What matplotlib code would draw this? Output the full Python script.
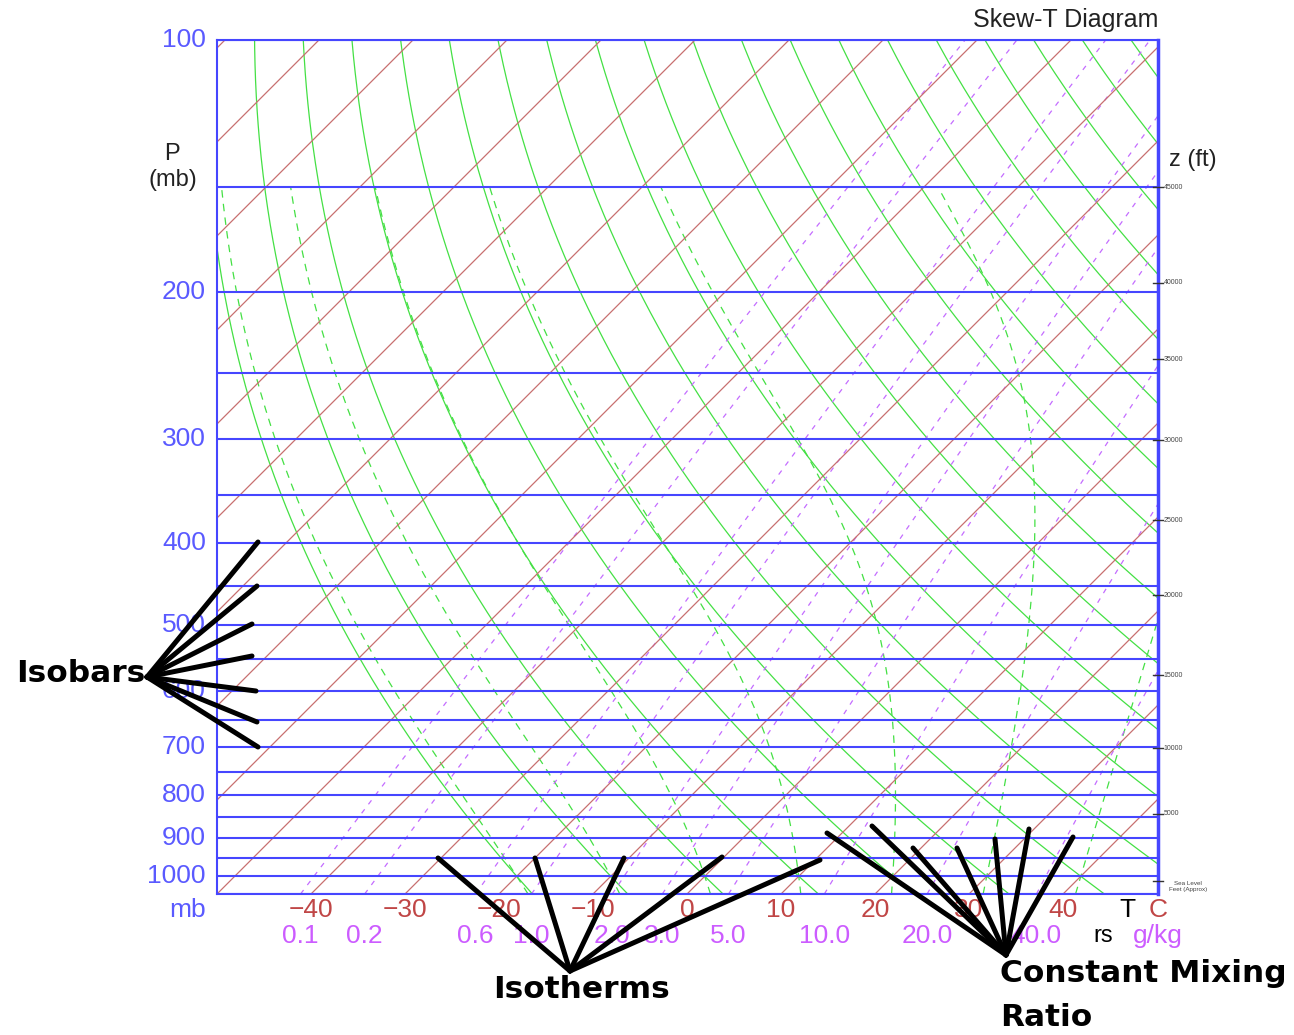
import numpy as np
import matplotlib.pyplot as plt
from matplotlib.lines import Line2D

W, H, DPI = 1294, 1035, 100

# pressure range (mb) and bottom temperature range (C)
p_bot, p_top = 1050.0, 100.0
t_left, t_right = -50.0, 50.1

isobars = np.arange(100, 1051, 50)
p_labels = [100, 200, 300, 400, 500, 600, 700, 800, 900, 1000]
isotherms = np.arange(-150, 51, 10)
t_labels = [-40, -30, -20, -10, 0, 10, 20, 30, 40]
dry_theta_c = np.arange(-20, 181, 10)
moist_thetaw_c = [-20, -10, 0, 10, 20, 30, 40]
mix_ratios = [0.1, 0.2, 0.6, 1.0, 2.0, 3.0, 5.0, 10.0, 20.0, 40.0]
mix_labels = ["0.1", "0.2", "0.6", "1.0", "2.0", "3.0", "5.0", "10.0", "20.0", "40.0"]
z_labels = ["45000", "40000", "35000", "30000", "25000", "20000", "15000", "10000", "5000"]
z_press = [150, 195, 241, 301, 375, 461, 575, 703, 842]
sea_level_p = 1013

blue = "#4646ff"
blue_txt = "#5a5aff"
red = "#c87070"
red_txt = "#c04646"
green = "#44e044"
purple = "#c46cff"
purple_txt = "#cc5cff"

fig = plt.figure(figsize=(W / DPI, H / DPI), dpi=DPI)

# axes box in pixels
ax_l, ax_r, ax_t, ax_b = 217, 1158, 40, 894
ax = fig.add_axes([ax_l / W, (H - ax_b) / H, (ax_r - ax_l) / W, (ax_b - ax_t) / H])
ax.set_yscale("log")
ax.set_ylim(p_bot, p_top)
ax.set_xlim(t_left, t_right)
ax.tick_params(which="both", length=0, labelleft=False, labelbottom=False)
ax.minorticks_off()
for side, lw in [("left", 1.5), ("right", 2.5), ("top", 1.5), ("bottom", 1.5)]:
    ax.spines[side].set_color(blue)
    ax.spines[side].set_linewidth(lw)

# isotherms drawn at 45 degrees on screen
px_per_ln = (ax_b - ax_t) / np.log(p_bot / p_top)
px_per_deg = (ax_r - ax_l) / (t_right - t_left)
K = px_per_ln / px_per_deg


def skew(T, p):
    return T + K * np.log(p_bot / p)


def sat_vp(tc):
    return 6.112 * np.exp(17.67 * tc / (tc + 243.5))


def dewpoint(e):
    a = np.log(e / 6.112)
    return 243.5 * a / (17.67 - a)


p = np.linspace(p_bot, p_top, 400)

for tc in isotherms:
    ax.plot(skew(tc, p), p, color=red, lw=0.9, zorder=2)

for th in dry_theta_c:
    T = (th + 273.15) * (p / 1000.0) ** 0.2857 - 273.15
    ax.plot(skew(T, p), p, color=green, lw=0.9, zorder=1)

# pseudo-adiabats integrated from 1000 mb
Rd, Cpd, Lv, eps = 287.04, 1005.7, 2.501e6, 0.622


def moist_rate(T, pp):
    es = sat_vp(T - 273.15)
    rs = eps * es / (pp - es)
    return (Rd * T + Lv * rs) / (pp * (Cpd + Lv * Lv * rs * eps / (Rd * T * T)))


def moist_path(t0, p_end, dp):
    T, pp = t0 + 273.15, 1000.0
    ps, ts = [pp], [T]
    while (pp - p_end) * np.sign(-dp) > 0:
        k1 = moist_rate(T, pp)
        k2 = moist_rate(T + 0.5 * dp * k1, pp + 0.5 * dp)
        k3 = moist_rate(T + 0.5 * dp * k2, pp + 0.5 * dp)
        k4 = moist_rate(T + dp * k3, pp + dp)
        T += dp * (k1 + 2 * k2 + 2 * k3 + k4) / 6
        pp += dp
        ps.append(pp)
        ts.append(T)
    return np.array(ps), np.array(ts) - 273.15


for tw in moist_thetaw_c:
    pu, tu = moist_path(tw, 150.0, -2.0)
    pd, td = moist_path(tw, p_bot, 2.0)
    pm = np.concatenate([pd[::-1], pu[1:]])
    tm = np.concatenate([td[::-1], tu[1:]])
    ax.plot(skew(tm, pm), pm, color=green, lw=0.9, ls=(0, (6, 5)), zorder=1)

# saturation mixing ratio lines
for w in mix_ratios:
    e = (w / 1000.0) * p / (eps + w / 1000.0)
    ax.plot(skew(dewpoint(e), p), p, color=purple, lw=0.9, ls=(0, (4, 5)), zorder=1)

for pb in isobars:
    ax.axhline(pb, color=blue, lw=1.5, zorder=3)

lab_font = "Liberation Sans"
for pl in p_labels:
    ax.text(-0.0117, pl, str(pl), transform=ax.get_yaxis_transform(), ha="right",
            va="center", color=blue_txt, fontsize=19, family=lab_font)
ax.text(-0.0117, -0.0187, "mb", transform=ax.transAxes, ha="right", va="center",
        color=blue_txt, fontsize=19, family=lab_font)

for tl in t_labels:
    ax.text(tl, -0.0187, str(tl).replace("-", "\u2212"), transform=ax.get_xaxis_transform(),
            ha="center", va="center", color=red_txt, fontsize=19, family=lab_font)
ax.text(0.968, -0.0187, "T", transform=ax.transAxes, ha="center", va="center",
        color="black", fontsize=19, family=lab_font)
ax.text(1.0, -0.0187, "C", transform=ax.transAxes, ha="center", va="center",
        color=red_txt, fontsize=19, family=lab_font)

for w, wl in zip(mix_ratios, mix_labels):
    e = (w / 1000.0) * p_bot / (eps + w / 1000.0)
    ax.text(dewpoint(e), -0.049, wl, transform=ax.get_xaxis_transform(),
            ha="center", va="center", color=purple_txt, fontsize=19, family=lab_font)
ax.text(0.9416, -0.049, "rs", transform=ax.transAxes, ha="center", va="center",
        color="black", fontsize=17, family=lab_font)
ax.text(1.0, -0.049, "g/kg", transform=ax.transAxes, ha="center", va="center",
        color=purple_txt, fontsize=19, family=lab_font)

# height scale on the right edge
for zl, zp in zip(z_labels, z_press):
    ax.plot([0.995, 1.005], [zp, zp], transform=ax.get_yaxis_transform(), color="#333333",
            lw=1.0, clip_on=False, zorder=4)
    ax.text(1.006, zp, zl, transform=ax.get_yaxis_transform(), ha="left", va="center",
            color="#444444", fontsize=5, family=lab_font)
ax.plot([0.995, 1.005], [sea_level_p, sea_level_p], transform=ax.get_yaxis_transform(),
        color="#333333", lw=1.0, clip_on=False, zorder=4)
ax.text(1.032, sea_level_p, "Sea Level\nFeet (Approx)", transform=ax.get_yaxis_transform(),
        ha="center", va="top", color="#444444", fontsize=4.5, family=lab_font,
        linespacing=1.3)

fig.text(1158 / W, 1 - 20 / H, "Skew-T Diagram", ha="right", va="center",
         fontsize=18, family=lab_font, color="#222222")
fig.text(172 / W, 1 - 154 / H, "P", ha="center", va="center", fontsize=17,
         family=lab_font, color="#222222")
fig.text(173 / W, 1 - 180 / H, "(mb)", ha="center", va="center", fontsize=17,
         family=lab_font, color="#222222")
fig.text(1193 / W, 1 - 160 / H, "z (ft)", ha="center", va="center", fontsize=17,
         family=lab_font, color="#222222")

# callouts: thick black fans from a label to sample lines


def fan(origin, tips):
    ox, oy = origin
    for tx, ty in tips:
        fig.add_artist(Line2D([ox / W, tx / W], [1 - oy / H, 1 - ty / H], color="black",
                              lw=3.6, solid_capstyle="round", zorder=10))


fan((147, 677), [(258, 542), (257, 586), (252, 624), (252, 656), (256, 691), (257, 722), (258, 747)])
fan((570, 971), [(438, 858), (535, 858), (624, 858), (722, 857), (820, 860)])
fan((1006, 955), [(827, 833), (872, 826), (913, 848), (957, 848), (995, 839), (1029, 829), (1073, 837)])

call_font = dict(family="DejaVu Sans", fontweight="bold", fontsize=22.5, color="black", zorder=11)
fig.text(145 / W, 1 - 673 / H, "Isobars", ha="right", va="center", **call_font)
fig.text(581 / W, 1 - 990 / H, "Isotherms", ha="center", va="center", **call_font)
fig.text(1000 / W, 1 - 973 / H, "Constant Mixing", ha="left", va="center", **call_font)
fig.text(1000 / W, 1 - 1018 / H, "Ratio", ha="left", va="center", **call_font)

fig.savefig("out.png", dpi=DPI)
